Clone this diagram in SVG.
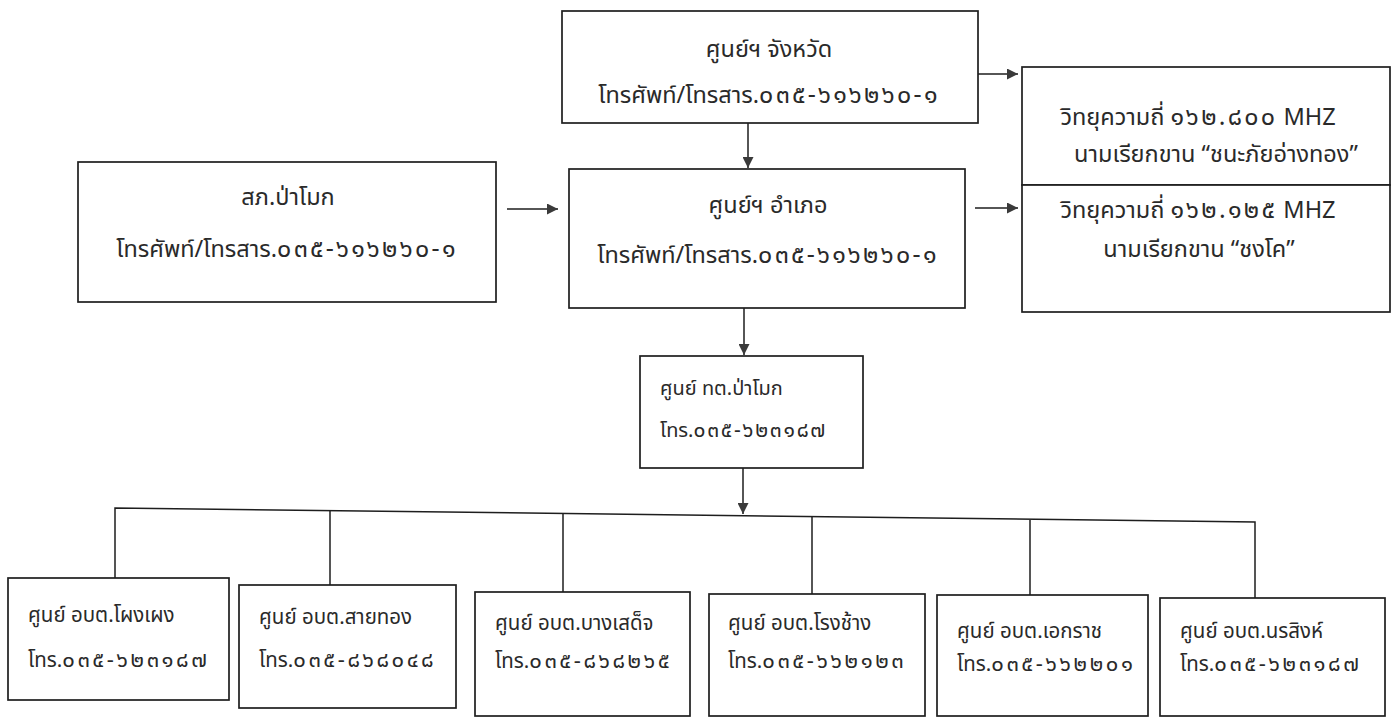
<svg xmlns="http://www.w3.org/2000/svg" width="1400" height="719" viewBox="0 0 1400 719">
<defs>
<marker id="ah" viewBox="0 0 10 10" refX="10" refY="5" markerWidth="11" markerHeight="11" markerUnits="userSpaceOnUse" orient="auto">
<path d="M0,0 L10,5 L0,10 z" fill="#3a3a3a"/>
</marker>
<style>
.box{fill:#fff;stroke:#1e1e1e;stroke-width:1.7}
.ln{fill:none;stroke:#1e1e1e;stroke-width:1.5}
.t{font-family:"Noto Sans Thai","Noto Sans Thai UI","Noto Sans","DejaVu Sans",sans-serif;fill:#2a2a2a;font-size:23.5px}
.c{text-anchor:middle}
.s{font-size:20.5px}
.m{font-size:20px}
.d{font-size:25px;letter-spacing:2.3px}
.ds{font-size:22px;letter-spacing:2.6px}
.dm{font-size:21px;letter-spacing:1.8px}
</style>
</defs>
<rect width="1400" height="719" fill="#fff"/>
<g id="connectors">
<line class="ln" x1="978" y1="74" x2="1018" y2="74" marker-end="url(#ah)"/>
<line class="ln" x1="748" y1="123" x2="748" y2="168" marker-end="url(#ah)"/>
<line class="ln" x1="507" y1="209" x2="558" y2="209" marker-end="url(#ah)"/>
<line class="ln" x1="975" y1="208" x2="1018" y2="208" marker-end="url(#ah)"/>
<line class="ln" x1="744" y1="308" x2="744" y2="355" marker-end="url(#ah)"/>
<line class="ln" x1="743" y1="468" x2="743" y2="514" marker-end="url(#ah)"/>
<polyline class="ln" points="115,578 115,508 1255,522 1255,598"/>
<line class="ln" x1="330" y1="511" x2="330" y2="585"/>
<line class="ln" x1="563" y1="514" x2="563" y2="592"/>
<line class="ln" x1="812" y1="517" x2="812" y2="594"/>
<line class="ln" x1="1030" y1="520" x2="1030" y2="595"/>
</g>
<g id="n-province">
<rect class="box" x="562" y="11" width="416" height="112"/>
<text class="t c" x="769" y="57">ศูนย์ฯ จังหวัด</text>
<text class="t c" x="769" y="103">โทรศัพท์/โทรสาร.<tspan class="d">๐๓๕-๖๑๖๒๖๐-๑</tspan></text>
</g>
<g id="n-radio1">
<rect class="box" x="1022" y="67" width="368" height="118"/>
<text class="t c" x="1198" y="125">วิทยุความถี่ <tspan class="d">๑๖๒.๘๐๐</tspan> MHZ</text>
<text class="t c" x="1216" y="162">นามเรียกขาน “ชนะภัยอ่างทอง”</text>
</g>
<g id="n-radio2">
<rect class="box" x="1022" y="185" width="368" height="127"/>
<text class="t c" x="1198" y="218">วิทยุความถี่ <tspan class="d">๑๖๒.๑๒๕</tspan> MHZ</text>
<text class="t c" x="1199" y="257">นามเรียกขาน “ชงโค”</text>
</g>
<g id="n-police">
<rect class="box" x="78" y="162" width="418" height="140"/>
<text class="t c" x="288" y="205">สภ.ป่าโมก</text>
<text class="t c" x="287" y="257">โทรศัพท์/โทรสาร.<tspan class="d">๐๓๕-๖๑๖๒๖๐-๑</tspan></text>
</g>
<g id="n-district">
<rect class="box" x="569" y="169" width="396" height="139"/>
<text class="t c" x="768" y="213">ศูนย์ฯ อำเภอ</text>
<text class="t c" x="768" y="263">โทรศัพท์/โทรสาร.<tspan class="d">๐๓๕-๖๑๖๒๖๐-๑</tspan></text>
</g>
<g id="n-municipality">
<rect class="box" x="640" y="356" width="223" height="112"/>
<text class="t m" x="660" y="395">ศูนย์ ทต.ป่าโมก</text>
<text class="t m" x="660" y="437">โทร.<tspan class="dm">๐๓๕-๖๒๓๑๘๗</tspan></text>
</g>
<g id="n-phongpheng">
<rect class="box" x="8" y="578" width="221" height="122"/>
<text class="t s" x="28" y="622">ศูนย์ อบต.โผงเผง</text>
<text class="t s" x="28" y="667">โทร.<tspan class="ds">๐๓๕-๖๒๓๑๘๗</tspan></text>
</g>
<g id="n-saithong">
<rect class="box" x="239" y="585" width="217" height="123"/>
<text class="t s" x="259" y="624">ศูนย์ อบต.สายทอง</text>
<text class="t s" x="259" y="667">โทร.<tspan class="ds">๐๓๕-๘๖๘๐๔๘</tspan></text>
</g>
<g id="n-bangsadet">
<rect class="box" x="475" y="592" width="215" height="124"/>
<text class="t s" x="495" y="630">ศูนย์ อบต.บางเสด็จ</text>
<text class="t s" x="495" y="668">โทร.<tspan class="ds">๐๓๕-๘๖๘๒๖๕</tspan></text>
</g>
<g id="n-rongchang">
<rect class="box" x="709" y="594" width="216" height="122"/>
<text class="t s" x="728" y="630">ศูนย์ อบต.โรงช้าง</text>
<text class="t s" x="728" y="668">โทร.<tspan class="ds">๐๓๕-๖๖๒๑๒๓</tspan></text>
</g>
<g id="n-ekkarat">
<rect class="box" x="937" y="595" width="211" height="121"/>
<text class="t s" x="957" y="638">ศูนย์ อบต.เอกราช</text>
<text class="t s" x="957" y="671">โทร.<tspan class="ds">๐๓๕-๖๖๒๒๐๑</tspan></text>
</g>
<g id="n-norasing">
<rect class="box" x="1160" y="598" width="225" height="118"/>
<text class="t s" x="1180" y="638">ศูนย์ อบต.นรสิงห์</text>
<text class="t s" x="1180" y="671">โทร.<tspan class="ds">๐๓๕-๖๒๓๑๘๗</tspan></text>
</g>
</svg>
